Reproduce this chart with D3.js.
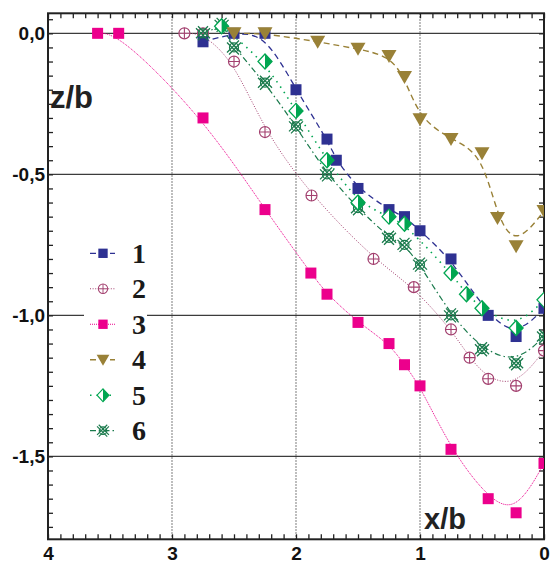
<!DOCTYPE html>
<html><head><meta charset="utf-8">
<script src="https://cdn.jsdelivr.net/npm/d3@7"></script>
<style>body{margin:0;background:#fff} svg{display:block}</style>
</head><body>
<svg id="chart" width="551" height="563"></svg>
<script>
// data: [x/b, z/b]
const series1 = [[2.75,-0.03],[2.5,0],[2.25,0],[2.0,-0.20],[1.75,-0.375],[1.675,-0.45],[1.5,-0.55],[1.25,-0.625],[1.125,-0.65],[1.0,-0.70],[0.75,-0.80],[0.45,-1.0],[0.225,-1.075],[0,-0.975]]
const series2 = [[2.9,0],[2.75,0],[2.5,-0.10],[2.25,-0.35],[1.875,-0.575],[1.375,-0.80],[1.05,-0.90],[0.75,-1.05],[0.6,-1.15],[0.45,-1.225],[0.225,-1.25],[0,-1.125]]
const series3 = [[3.6,0],[3.43,0],[2.75,-0.30],[2.25,-0.625],[1.88,-0.85],[1.75,-0.925],[1.5,-1.025],[1.25,-1.10],[1.125,-1.175],[1.0,-1.25],[0.75,-1.475],[0.45,-1.65],[0.225,-1.70],[0,-1.525]]
const series4 = [[2.5,0],[2.25,0],[1.825,-0.03],[1.5,-0.055],[1.25,-0.08],[1.125,-0.155],[1.0,-0.305],[0.75,-0.375],[0.5,-0.425],[0.375,-0.655],[0.225,-0.755],[0,-0.63]]
const series5 = [[2.6,0.025],[2.25,-0.10],[2.0,-0.275],[1.75,-0.45],[1.5,-0.60],[1.25,-0.65],[1.125,-0.675],[0.75,-0.85],[0.625,-0.925],[0.5,-0.975],[0.225,-1.045],[0,-0.945]]
const series6 = [[2.75,0],[2.6,0.03],[2.5,-0.05],[2.25,-0.175],[2.0,-0.33],[1.75,-0.50],[1.5,-0.62],[1.25,-0.725],[1.125,-0.75],[1.0,-0.82],[0.75,-1.0],[0.5,-1.12],[0.225,-1.17],[0,-1.075]]

const seriesLabels = ["1", "2", "3", "4", "5", "6"]
const yTickValues = [0, -0.5, -1.0, -1.5]
const yTickLabels = ["0,0", "-0,5", "-1,0", "-1,5"]
const xTickValues = [4, 3, 2, 1, 0]
const xGridValues = [3, 2, 1]

const styles = [
  {data: series1, color: "#2e3192", marker: "square", dash: "6,4", w: 1.3},
  {data: series2, color: "#a3406f", marker: "oplus", dash: "1,1.6", w: 1},
  {data: series3, color: "#ec008c", marker: "square", dash: "1,1", w: 1},
  {data: series4, color: "#998137", marker: "tri", dash: "6,4", w: 1.4},
  {data: series5, color: "#00a651", marker: "diamond", dash: "1.5,5", w: 1.6},
  {data: series6, color: "#1a7a4c", marker: "xcircle", dash: "6,3,1.5,3", w: 1.2},
]
const drawOrder = [2, 1, 0, 5, 4, 3]

const x = d3.scaleLinear().domain([4, 0]).range([48, 544])
const y = d3.scaleLinear().domain([-1.794, 0.071]).range([539.3, 13.3])

const svg = d3.select("#chart")

svg.append("defs").append("clipPath").attr("id", "plot")
  .append("rect")
  .attr("x", x(4)).attr("y", y(0.071))
  .attr("width", x(0) - x(4)).attr("height", y(-1.794) - y(0.071))

// grid
svg.append("g").selectAll("line").data(yTickValues).join("line")
  .attr("x1", x(4)).attr("x2", x(0))
  .attr("y1", d => y(d)).attr("y2", d => y(d))
  .attr("stroke", "#3c3c3c").attr("stroke-width", 1.2)

svg.append("g").selectAll("line").data(xGridValues).join("line")
  .attr("x1", d => x(d)).attr("x2", d => x(d))
  .attr("y1", y(0.071)).attr("y2", y(-1.794))
  .attr("stroke", "#6e6e6e").attr("stroke-width", 1.2).attr("stroke-dasharray", "1.5,1.5")

// inward ticks on all four sides
const xMinor = d3.range(0, 41).map(i => i / 10)
const yMinor = d3.range(-35, 2).map(i => i / 20)
const tickStyle = g => {
  g.select(".domain").remove()
  g.selectAll(".tick line").attr("stroke", "#222").attr("stroke-width", 1.3)
}
svg.append("g").attr("transform", `translate(0,${y(-1.794)})`)
  .call(d3.axisBottom(x).tickValues(xMinor).tickSize(-5).tickFormat("")).call(tickStyle)
svg.append("g").attr("transform", `translate(0,${y(0.071)})`)
  .call(d3.axisTop(x).tickValues(xMinor).tickSize(-5).tickFormat("")).call(tickStyle)
svg.append("g").attr("transform", `translate(${x(4)},0)`)
  .call(d3.axisLeft(y).tickValues(yMinor).tickSize(-5).tickFormat("")).call(tickStyle)
svg.append("g").attr("transform", `translate(${x(0)},0)`)
  .call(d3.axisRight(y).tickValues(yMinor).tickSize(-5).tickFormat("")).call(tickStyle)

// tick labels
const labelStyle = g => {
  g.select(".domain").remove()
  g.selectAll(".tick line").remove()
  g.selectAll("text").attr("font-family", "Liberation Sans, Arial, sans-serif")
    .attr("font-weight", "bold").attr("font-size", 19).attr("fill", "#111")
}
svg.append("g").attr("transform", `translate(${x(4) - 3},0)`)
  .call(d3.axisLeft(y).tickValues(yTickValues).tickSize(0).tickPadding(0)
    .tickFormat((d, i) => yTickLabels[i])).call(labelStyle)
svg.append("g").attr("transform", `translate(0,${y(-1.794) + 5})`)
  .call(d3.axisBottom(x).tickValues(xTickValues).tickSize(0).tickPadding(2)
    .tickFormat(d3.format("d"))).call(labelStyle)

// frame
svg.append("rect")
  .attr("x", x(4)).attr("y", y(0.071))
  .attr("width", x(0) - x(4)).attr("height", y(-1.794) - y(0.071))
  .attr("fill", "none").attr("stroke", "#222").attr("stroke-width", 2)

// axis titles
svg.append("text").attr("x", 50).attr("y", 108).text("z/b")
  .attr("font-family", "Liberation Sans, Arial, sans-serif").attr("font-weight", "bold")
  .attr("font-size", 31).attr("fill", "#222")
svg.append("text").attr("x", 424).attr("y", 529).text("x/b")
  .attr("font-family", "Liberation Sans, Arial, sans-serif").attr("font-weight", "bold")
  .attr("font-size", 29).attr("fill", "#222")

function drawMarker(g, type, color) {
  if (type === "square") {
    g.append("rect").attr("x", -5.5).attr("y", -5.5).attr("width", 11).attr("height", 11)
      .attr("fill", color)
  } else if (type === "oplus") {
    g.append("circle").attr("r", 5.5).attr("fill", "#fff").attr("fill-opacity", 0.6)
      .attr("stroke", color).attr("stroke-width", 1.2)
    g.append("path").attr("d", "M-5.5,0H5.5M0,-5.5V5.5").attr("stroke", color).attr("stroke-width", 1.1)
  } else if (type === "tri") {
    g.append("path").attr("d", "M-7.5,-6L7.5,-6L0,7Z").attr("fill", color)
  } else if (type === "diamond") {
    g.append("path").attr("d", "M0,-7.5L7,0L0,7.5L-7,0Z").attr("fill", "#fff")
      .attr("stroke", color).attr("stroke-width", 1.3)
    g.append("path").attr("d", "M0,-7.5L7,0L0,7.5Z").attr("fill", color)
  } else if (type === "xcircle") {
    g.append("circle").attr("r", 4.5).attr("fill", "none")
      .attr("stroke", color).attr("stroke-width", 1.2)
    g.append("path")
      .attr("d", "M-7,-5L5,7M-5,-7L7,5M-7,5L5,-7M-5,7L7,-5")
      .attr("stroke", color).attr("stroke-width", 1.3)
  }
}

const line = d3.line().x(d => x(d[0])).y(d => y(d[1])).curve(d3.curveBasis)
const plot = svg.append("g").attr("clip-path", "url(#plot)")

drawOrder.forEach(i => {
  const s = styles[i]
  plot.append("path").datum(s.data).attr("d", line)
    .attr("fill", "none").attr("stroke", s.color)
    .attr("stroke-width", s.w).attr("stroke-dasharray", s.dash)
})
drawOrder.forEach(i => {
  const s = styles[i]
  plot.append("g").selectAll("g").data(s.data).join("g")
    .attr("transform", d => `translate(${x(d[0])},${y(d[1])})`)
    .each(function () { drawMarker(d3.select(this), s.marker, s.color) })
})

// legend
const legend = svg.append("g")
legend.append("rect").attr("x", 84).attr("y", 236).attr("width", 63).attr("height", 210).attr("fill", "#fff")
const rowY = d3.scaleLinear().domain([0, 5]).range([253.3, 430.7])
styles.forEach((s, i) => {
  const row = legend.append("g").attr("transform", `translate(0,${rowY(i)})`)
  row.append("line").attr("x1", 90).attr("x2", 115)
    .attr("stroke", s.color).attr("stroke-width", s.w)
    .attr("stroke-dasharray", s.dash)
  const m = row.append("g").attr("transform", "translate(103,0) scale(0.85)")
  drawMarker(m, s.marker, s.color)
  row.append("text").attr("x", 132).attr("y", 9.5).text(seriesLabels[i])
    .attr("font-family", "Liberation Serif, Times New Roman, serif").attr("font-weight", "bold")
    .attr("font-size", 28).attr("fill", "#1a1a1a")
})
</script>
</body></html>
